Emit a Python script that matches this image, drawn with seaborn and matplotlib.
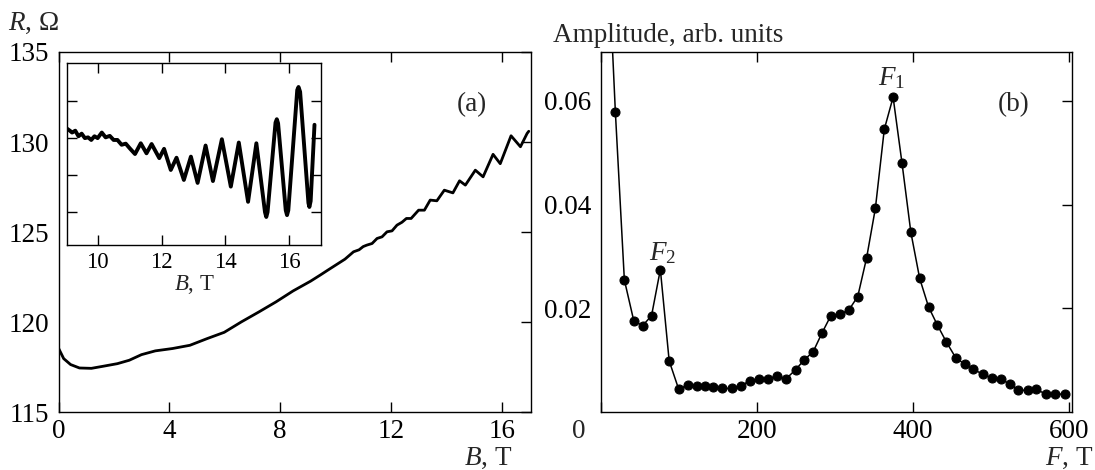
import numpy as np
import pandas as pd
import matplotlib
matplotlib.use("Agg")
import matplotlib.pyplot as plt
import seaborn as sns

# ---------------- data ----------------
# (a) main magnetoresistance curve R(B)
main_B = [0.0, 0.18, 0.43, 0.75, 1.18, 1.62, 2.12, 2.55, 2.99, 3.49, 4.11, 4.74,
          5.36, 5.98, 6.6, 7.23, 7.85, 8.47, 9.1, 9.45, 9.72, 10.34, 10.65, 10.85,
          11.0, 11.13, 11.32, 11.5, 11.68, 11.86, 12.04, 12.22, 12.4, 12.56, 12.73,
          13.0, 13.21, 13.42, 13.66, 13.93, 14.24, 14.48, 14.69, 15.05, 15.33,
          15.69, 15.95, 16.34, 16.68, 16.92, 16.98]
main_R = [118.54, 117.98, 117.65, 117.46, 117.44, 117.56, 117.7, 117.89, 118.2,
          118.41, 118.54, 118.72, 119.09, 119.44, 120.02, 120.57, 121.13, 121.74,
          122.28, 122.62, 122.89, 123.5, 123.91, 124.02, 124.2, 124.28, 124.37,
          124.65, 124.74, 125.02, 125.07, 125.39, 125.55, 125.76, 125.76, 126.22,
          126.22, 126.78, 126.74, 127.33, 127.18, 127.85, 127.61, 128.44, 128.07,
          129.32, 128.8, 130.35, 129.74, 130.48, 130.6]

# (a) inset: oscillating part, arbitrary units
inset_B = [9.05, 9.13, 9.2, 9.3, 9.4, 9.5, 9.6, 9.7, 9.8, 9.9, 10.0, 10.13, 10.25,
           10.38, 10.5, 10.62, 10.75, 10.88, 11.01, 11.17, 11.35, 11.53, 11.69,
           11.93, 12.08, 12.29, 12.47, 12.7, 12.92, 13.13, 13.38, 13.61, 13.89,
           14.17, 14.42, 14.71, 14.97, 15.24, 15.28, 15.32, 15.57, 15.61, 15.65,
           15.89, 15.93, 15.97, 16.25, 16.29, 16.34, 16.6, 16.63, 16.67, 16.79]
inset_u = [3.25, 3.2, 3.15, 3.2, 3.05, 3.12, 3.0, 3.02, 2.95, 3.05, 3.0, 3.15, 3.02,
           3.06, 2.95, 2.95, 2.82, 2.85, 2.72, 2.57, 2.86, 2.59, 2.84, 2.46, 2.71,
           2.14, 2.47, 1.87, 2.5, 1.79, 2.8, 1.84, 2.97, 1.69, 2.88, 1.28, 2.86,
           1.0, 0.87, 1.0, 3.42, 3.51, 3.4, 1.05, 0.92, 1.05, 4.3, 4.38, 4.25,
           1.25, 1.14, 1.3, 3.36]

# (b) Fourier spectrum
fft_F = [7.3, 18.8, 30.3, 42.4, 53.7, 65.1, 76.4, 87.7, 100.0, 111.3, 122.7, 133.1,
         144.4, 155.6, 168.3, 179.7, 191.0, 202.3, 213.7, 225.9, 237.2, 249.5,
         260.8, 272.2, 283.5, 294.7, 306.5, 317.8, 329.2, 340.5, 351.8, 363.2,
         374.5, 385.9, 397.2, 408.5, 419.9, 431.2, 442.5, 454.7, 466.0, 477.3,
         489.6, 500.9, 512.2, 523.6, 534.9, 546.7, 558.0, 570.3, 581.5, 594.2]
fft_A = [0.0955, 0.0578, 0.0255, 0.0176, 0.0167, 0.0186, 0.0275, 0.0099, 0.0044,
         0.0053, 0.0051, 0.0051, 0.0049, 0.0046, 0.0046, 0.0051, 0.0061, 0.0064,
         0.0065, 0.0069, 0.0064, 0.0082, 0.0101, 0.0117, 0.0153, 0.0186, 0.0189,
         0.0197, 0.0223, 0.0297, 0.0393, 0.0545, 0.0607, 0.0480, 0.0347, 0.0258,
         0.0203, 0.0168, 0.0136, 0.0105, 0.0093, 0.0083, 0.0073, 0.0066, 0.0064,
         0.0055, 0.0043, 0.0042, 0.0044, 0.0035, 0.0035, 0.0035]

main_xticks = [0, 4, 8, 12, 16]
main_yticks = [115, 120, 125, 130, 135]
inset_xticks = [10, 12, 14, 16]
inset_yticks = [1, 2, 3, 4]
fft_xticks = [0, 200, 400, 600]
fft_yticks = [0.02, 0.04, 0.06]

# ---------------- style ----------------
sns.set_theme(style="ticks")
plt.rcParams["font.family"] = ["Liberation Serif", "DejaVu Serif"]
plt.rcParams["mathtext.fontset"] = "custom"
plt.rcParams["mathtext.rm"] = "Liberation Serif"
plt.rcParams["mathtext.it"] = "Liberation Serif:italic"
plt.rcParams["axes.linewidth"] = 1.0
plt.rcParams["axes.edgecolor"] = "black"

FS = 19.5
FSI = 16.5
W, H = 1095, 470
fig = plt.figure(figsize=(W / 100, H / 100), dpi=100)


def px_axes(x0, y0, x1, y1):
    return fig.add_axes([x0 / W, 1 - y1 / H, (x1 - x0) / W, (y1 - y0) / H])


def style_ticks(ax, length, labelsize, pad_x, pad_y):
    ax.tick_params(axis="both", which="both", direction="in", length=length,
                   width=1.0, color="black", labelsize=labelsize,
                   top=True, right=True, left=False, bottom=True,
                   labelcolor="black")
    ax.tick_params(axis="x", pad=pad_x)
    ax.tick_params(axis="y", pad=pad_y)
    for s in ax.spines.values():
        s.set_visible(True)
        s.set_color("black")
        s.set_linewidth(1.0)


# ---------------- panel (a) ----------------
axA = px_axes(58.7, 52, 530.7, 412.3)
dfA = pd.DataFrame({"B": main_B, "R": main_R})
sns.lineplot(data=dfA, x="B", y="R", ax=axA, color="black", linewidth=2.0,
             sort=False, estimator=None)
axA.set_xlim(0, 17.05)
axA.set_ylim(115, 135)
axA.set_xticks(main_xticks)
axA.set_yticks(main_yticks)
axA.set_xticklabels([str(t) for t in main_xticks])
axA.set_yticklabels([str(t) for t in main_yticks])
style_ticks(axA, 7, FS, 5, 7)
axA.set_xlabel("")
axA.set_ylabel("")
axA.text(0.875, 0.855, "(a)", transform=axA.transAxes, fontsize=FS,
         ha="center", va="center")

# inset
axI = px_axes(67.3, 63.3, 321.2, 245.5)
dfI = pd.DataFrame({"B": inset_B, "u": inset_u})
sns.lineplot(data=dfI, x="B", y="u", ax=axI, color="black", linewidth=2.8,
             sort=False, estimator=None)
axI.set_xlim(9.05, 17.0)
axI.set_ylim(0.1, 5.02)
axI.set_xticks(inset_xticks)
axI.set_yticks(inset_yticks)
axI.set_yticklabels([])
style_ticks(axI, 7, FSI, 5, 4)
axI.tick_params(axis="y", left=True)
axI.set_xlabel("$B$, T", fontsize=FSI, labelpad=0)
axI.set_ylabel("")

# ---------------- panel (b) ----------------
axB = px_axes(600.7, 52, 1072.3, 412.3)
dfB = pd.DataFrame({"F": fft_F, "A": fft_A})
sns.lineplot(data=dfB, x="F", y="A", ax=axB, color="black", linewidth=1.1,
             marker="o", markersize=6.5, markeredgecolor="black",
             markerfacecolor="black", sort=False, estimator=None)
axB.set_xlim(0, 604)
axB.set_ylim(0, 0.0694)
axB.set_xticks(fft_xticks)
axB.set_xticklabels([""] + [str(t) for t in fft_xticks[1:]])
axB.set_yticks(fft_yticks)
axB.set_yticklabels([f"{t:.2f}" for t in fft_yticks])
style_ticks(axB, 7, FS, 5, 7)
axB.set_xlabel("")
axB.set_ylabel("")
# the "0" label of the reference sits slightly left of the axis corner
axB.annotate("0", xy=(0, 0), xycoords=("data", "axes fraction"),
             xytext=(-16, -5), textcoords="offset points", fontsize=FS,
             ha="center", va="top")
axB.text(0.875, 0.855, "(b)", transform=axB.transAxes, fontsize=FS,
         ha="center", va="center")
axB.text(372.7, 0.0643, "$F_1$", fontsize=FS, ha="center", va="center")
axB.text(79, 0.0306, "$F_2$", fontsize=FS, ha="center", va="center")

# ---------------- axis titles ----------------
fig.text(8 / W, 1 - 23 / H, "$R$, Ω", fontsize=FS, ha="left", va="center")
fig.text(512 / W, 1 - 458 / H, "$B$, T", fontsize=FS, ha="right", va="center")
fig.text(553 / W, 1 - 35 / H, "Amplitude, arb. units", fontsize=FS,
         ha="left", va="center")
fig.text(1093 / W, 1 - 458 / H, "$F$, T", fontsize=FS, ha="right",
         va="center")

fig.savefig("out.png", dpi=100, facecolor="white")
